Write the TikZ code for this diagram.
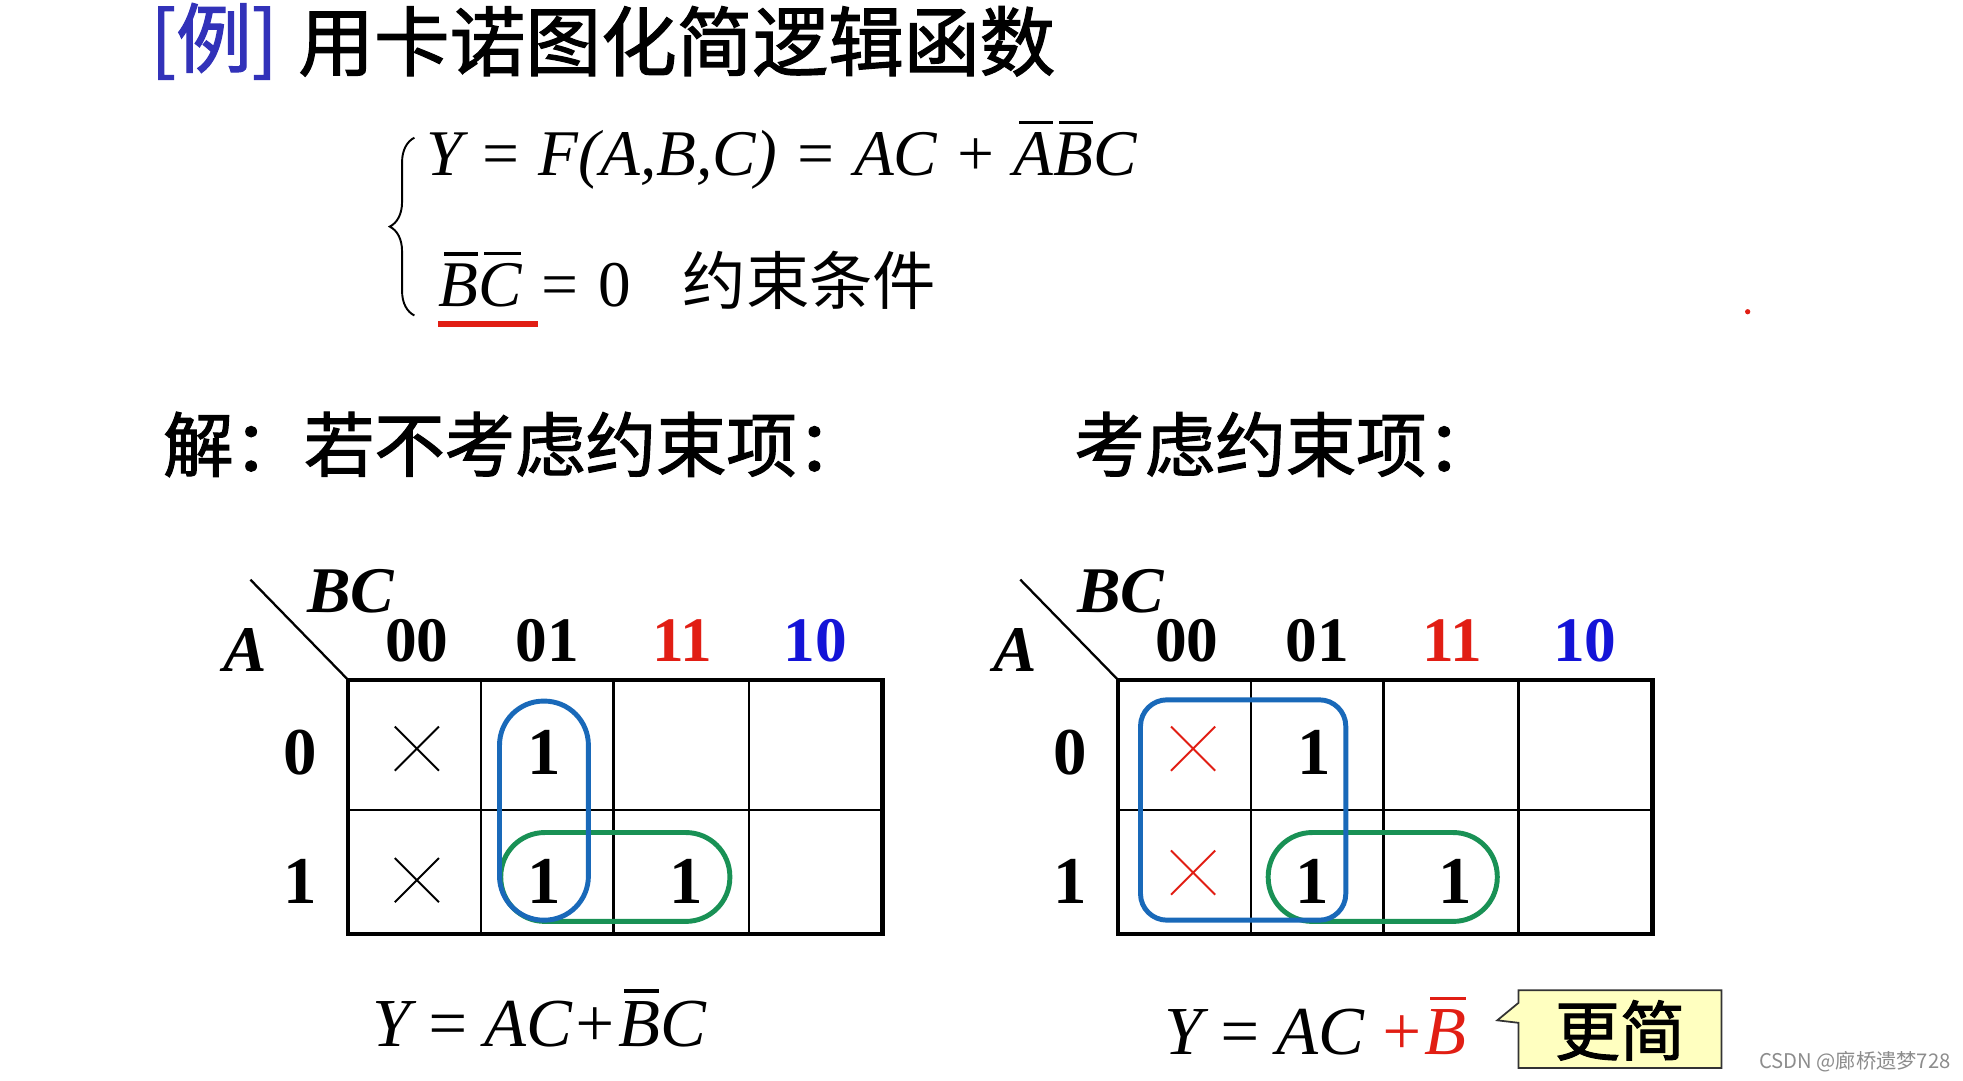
\documentclass[tikz,border=0pt]{standalone}
\usepackage{fontspec}
\setmainfont{Liberation Serif}
\newfontfamily\cjk{Noto Sans CJK SC}
\newfontfamily\cjkm{Noto Sans CJK SC}[FakeBold=1.6]
\usetikzlibrary{decorations.pathreplacing,shapes.misc}
\definecolor{exblue}{RGB}{50,50,185}
\definecolor{hdred}{RGB}{225,30,20}
\definecolor{hdblue}{RGB}{20,20,215}
\definecolor{loopblue}{RGB}{25,105,185}
\definecolor{loopgreen}{RGB}{25,145,85}
\definecolor{noteyellow}{RGB}{255,255,192}
% bar over one letter
\newcommand\nb[1]{\setbox0\hbox{#1}\rlap{\kern0.14\wd0\rule[\dimexpr\ht0+0.13em\relax]{0.84\wd0}{0.05em}}\box0\relax}

\begin{document}
\begin{tikzpicture}[x=0.025cm,y=-0.025cm,
  cn/.style={font=\cjkm\fontsize{40}{40}\selectfont, anchor=west, inner sep=0pt},
  eq/.style={font=\fontsize{37}{37}\selectfont\itshape, anchor=base west, inner sep=0pt},
  hd/.style={font=\fontsize{36}{36}\selectfont\bfseries, inner sep=0pt},
  var/.style={font=\fontsize{37}{37}\selectfont\bfseries\itshape, inner sep=0pt},
  cell/.style={font=\fontsize{38}{38}\selectfont\bfseries, inner sep=0pt},
  xmark/.style={cross out, draw, line width=1.1pt, minimum size=24pt, inner sep=0pt},
  loopb/.style={draw=loopblue, line width=2.8pt},
  loopg/.style={draw=loopgreen, line width=2.8pt}]
\useasboundingbox (0,0) rectangle (1568,863);

 %title
 \node[cn, font=\cjkm\fontsize{43}{43}\selectfont, text=exblue] (ex) at (120,33) {[例]};
 \node[cn, font=\cjkm\fontsize{43}{43}\selectfont] (title) at (238,33) {用卡诺图化简逻辑函数};

 %equations
 \node[eq] (eq1) at (340,140) {Y = F(A,B,C) = AC + \nb{A}\nb{B}C};
 \node[eq] (eq2) at (350,245) {\nb{B}\nb{C} = {\upshape 0}};
 \node[cn, font=\cjk\fontsize{36}{36}\selectfont, anchor=base west] (cond) at (545,243) {约束条件};
 \draw[line width=1.1pt, decorate, decoration={brace, amplitude=14pt}] (331,252) -- (331,110);
 \draw[hdred, line width=3.5pt] (350,259) -- (430,259);

 %solution
 \node[cn] (sol1) at (130,355) {解：若不考虑约束项：};
 \node[cn] (sol2) at (858,355) {考虑约束项：};

 % left map
 \draw[line width=2.6pt] (278,543) rectangle (705,746);
 \draw[line width=1.3pt] (384,543) -- (384,746) (490,543) -- (490,746) (598,543) -- (598,746) (278,647) -- (705,647);
 \draw[line width=1.3pt] (200,463) -- (278,543);
 \node[var] (bcL) at (280,472) {BC};
 \node[var] (aL) at (196,519) {A};
 \node[hd] (c00L) at (333,512) {00};
 \node[hd] (c01L) at (437,512) {01};
 \node[hd, text=hdred] (c11L) at (545,512) {11};
 \node[hd, text=hdblue] (c10L) at (651,512) {10};
 \node[cell] (r0L) at (240,601) {0};
 \node[cell] (r1L) at (240,704) {1};
 \node[xmark] (x0L) at (333,598) {};
 \node[xmark] (x1L) at (333,703) {};
 \node[cell] (m1L) at (435,601) {1};
 \node[cell] (m5L) at (435,704) {1};
 \node[cell] (m7L) at (548,704) {1};
 \draw[loopg, rounded corners=25pt] (400,665) rectangle (583,736);
 \draw[loopb, rounded corners=25pt] (399,560) rectangle (470,735);
 \node[eq, font=\fontsize{39}{39}\selectfont\itshape] (resL) at (297,836) {Y\hspace{0.2em}=\hspace{0.2em}AC+\nb{B}C};

 % right map
 \draw[line width=2.6pt] (893,543) rectangle (1320,746);
 \draw[line width=1.3pt] (999,543) -- (999,746) (1105,543) -- (1105,746) (1213,543) -- (1213,746) (893,647) -- (1320,647);
 \draw[line width=1.3pt] (815,463) -- (893,543);
 \node[var] (bcR) at (895,472) {BC};
 \node[var] (aR) at (811,519) {A};
 \node[hd] (c00R) at (948,512) {00};
 \node[hd] (c01R) at (1052,512) {01};
 \node[hd, text=hdred] (c11R) at (1160,512) {11};
 \node[hd, text=hdblue] (c10R) at (1266,512) {10};
 \node[cell] (r0R) at (855,601) {0};
 \node[cell] (r1R) at (855,704) {1};
 \node[xmark, draw=hdred] (x0R) at (953,598) {};
 \node[xmark, draw=hdred] (x1R) at (953,697) {};
 \node[cell] (m1R) at (1050,601) {1};
 \node[cell] (m5R) at (1048,704) {1};
 \node[cell] (m7R) at (1162,704) {1};
 \draw[loopg, rounded corners=25pt] (1013,665) rectangle (1196,736);
 \draw[loopb, rounded corners=15pt] (911,559) rectangle (1075,735);
 \node[eq, font=\fontsize{39}{39}\selectfont\itshape] (resR) at (930,842) {Y\hspace{0.2em}=\hspace{0.2em}AC\hspace{0.2em}{\color{hdred}+\nb{B}}};

 %note
 \draw[fill=noteyellow, draw=black!80, line width=1pt] (1213,791) -- (1375,791) -- (1375,853) -- (1213,853) -- (1213,817) -- (1196,815) -- (1213,801) -- cycle;
 \node[font=\cjkm\fontsize{37}{37}\selectfont, inner sep=0pt] (note) at (1294,823) {更简};

 \node[cn, font=\cjk\fontsize{11.5}{11.5}\selectfont, text=black!45] (wm) at (1405,848) {CSDN @廊桥遗梦728};
 \fill[hdred] (1396,249) circle (1.5pt);
\end{tikzpicture}
\end{document}
